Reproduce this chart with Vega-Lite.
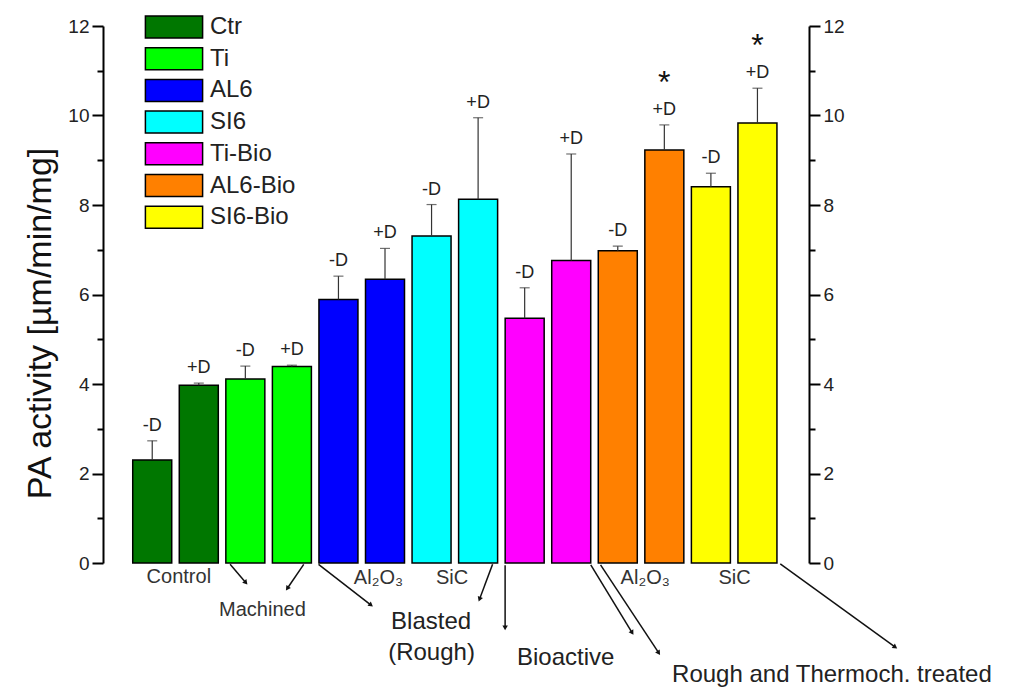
{
 "$schema": "https://vega.github.io/schema/vega-lite/v6.json",
 "width": 706,
 "height": 537,
 "autosize": {"type": "none"},
 "padding": {"left": 103, "top": 26, "right": 207, "bottom": 128},
 "background": "white",
 "config": {"view": {"stroke": null}, "font": "Liberation Sans"},
 "datasets": {
  "bars": [
   {"idx": 1, "group": "Ctr", "cond": "-D", "value": 2.30, "upper": 2.73, "star": ""},
   {"idx": 2, "group": "Ctr", "cond": "+D", "value": 3.97, "upper": 4.02, "star": ""},
   {"idx": 3, "group": "Ti", "cond": "-D", "value": 4.11, "upper": 4.40, "star": ""},
   {"idx": 4, "group": "Ti", "cond": "+D", "value": 4.39, "upper": 4.42, "star": ""},
   {"idx": 5, "group": "AL6", "cond": "-D", "value": 5.89, "upper": 6.41, "star": ""},
   {"idx": 6, "group": "AL6", "cond": "+D", "value": 6.34, "upper": 7.03, "star": ""},
   {"idx": 7, "group": "SI6", "cond": "-D", "value": 7.31, "upper": 8.01, "star": ""},
   {"idx": 8, "group": "SI6", "cond": "+D", "value": 8.13, "upper": 9.95, "star": ""},
   {"idx": 9, "group": "Ti-Bio", "cond": "-D", "value": 5.47, "upper": 6.15, "star": ""},
   {"idx": 10, "group": "Ti-Bio", "cond": "+D", "value": 6.76, "upper": 9.14, "star": ""},
   {"idx": 11, "group": "AL6-Bio", "cond": "-D", "value": 6.98, "upper": 7.08, "star": ""},
   {"idx": 12, "group": "AL6-Bio", "cond": "+D", "value": 9.23, "upper": 9.79, "star": "*"},
   {"idx": 13, "group": "SI6-Bio", "cond": "-D", "value": 8.41, "upper": 8.71, "star": ""},
   {"idx": 14, "group": "SI6-Bio", "cond": "+D", "value": 9.83, "upper": 10.61, "star": "*"}
  ],
  "arrows": [
   {"ax1": 2.673, "ay1": -0.03, "ax2": 3.011, "ay2": -0.44},
   {"ax1": 4.254, "ay1": -0.03, "ax2": 3.901, "ay2": -0.57},
   {"ax1": 4.572, "ay1": -0.03, "ax2": 5.70, "ay2": -0.94},
   {"ax1": 8.311, "ay1": -0.03, "ax2": 8.03, "ay2": -0.81},
   {"ax1": 8.58, "ay1": -0.05, "ax2": 8.58, "ay2": -1.45},
   {"ax1": 10.42, "ay1": -0.04, "ax2": 11.31, "ay2": -1.56},
   {"ax1": 10.63, "ay1": -0.04, "ax2": 11.88, "ay2": -2.01},
   {"ax1": 14.49, "ay1": -0.02, "ax2": 16.96, "ay2": -1.88}
  ],
  "smalltext": [
   {"tx": 1.572, "ty": -0.31, "label": "Control"},
   {"tx": 3.367, "ty": -1.05, "label": "Machined"},
   {"tx": 5.86, "ty": -0.33, "label": "Al₂O₃"},
   {"tx": 7.44, "ty": -0.33, "label": "SiC"},
   {"tx": 11.59, "ty": -0.33, "label": "Al₂O₃"},
   {"tx": 13.51, "ty": -0.33, "label": "SiC"}
  ],
  "bigtext": [
   {"tx": 6.99, "ty": -1.31, "label": "Blasted"},
   {"tx": 7.0, "ty": -2.02, "label": "(Rough)"},
   {"tx": 9.88, "ty": -2.13, "label": "Bioactive"},
   {"tx": 15.6, "ty": -2.50, "label": "Rough and Thermoch. treated"}
  ]
 },
 "layer": [
  {
   "data": {"name": "bars"},
   "mark": {"type": "bar", "width": 39, "stroke": "black", "strokeWidth": 1.5},
   "encoding": {
    "x": {"field": "idx", "type": "quantitative", "scale": {"domain": [0.05, 15], "nice": false, "zero": false},
          "axis": {"title": null, "labels": false, "ticks": false, "grid": false, "domainColor": "black", "domainWidth": 2}},
    "y": {"field": "value", "type": "quantitative", "scale": {"domain": [0, 12], "nice": false},
          "axis": {"orient": "left", "values": [0,1,2,3,4,5,6,7,8,9,10,11,12],
                   "labelExpr": "datum.value % 2 == 0 ? datum.label : ''",
                   "tickSize": {"condition": {"test": "datum.value % 2 == 0", "value": 11}, "value": 6},
                   "tickWidth": 2, "tickColor": "black", "domainColor": "black", "domainWidth": 2,
                   "labelFontSize": 19, "labelColor": "#222", "labelPadding": 3, "labelFlush": false, "labelOverlap": false,
                   "grid": false, "title": "PA activity [µm/min/mg]", "titleFontSize": 34, "titleFontWeight": "normal",
                   "titleColor": "#111", "titleAngle": -90, "titleAlign": "center", "titleBaseline": "middle",
                   "titleX": -63, "titleY": 297}},
    "fill": {"field": "group", "type": "nominal",
             "scale": {"domain": ["Ctr", "Ti", "AL6", "SI6", "Ti-Bio", "AL6-Bio", "SI6-Bio"],
                       "range": ["#007700", "#00ff00", "#0000ff", "#00ffff", "#ff00ff", "#ff8000", "#ffff00"]},
             "legend": {"orient": "none", "legendX": 59, "legendY": -11, "title": null, "padding": 0,
                        "symbolType": "M-2.6,-1H2.6V1H-2.6Z", "symbolSize": 484, "symbolStrokeColor": "black",
                        "symbolStrokeWidth": 1.5, "symbolOpacity": 1, "labelFontSize": 24, "labelColor": "#222",
                        "labelOffset": 24, "rowPadding": 3.7}}
   }
  },
  {
   "data": {"name": "bars"},
   "mark": {"type": "rule", "color": "#333", "strokeWidth": 1.2},
   "encoding": {
    "x": {"field": "idx", "type": "quantitative", "axis": null},
    "y": {"field": "value", "type": "quantitative",
          "axis": {"orient": "right", "values": [0,1,2,3,4,5,6,7,8,9,10,11,12],
                   "labelExpr": "datum.value % 2 == 0 ? datum.label : ''",
                   "tickSize": {"condition": {"test": "datum.value % 2 == 0", "value": 11}, "value": 6},
                   "tickWidth": 2, "tickColor": "black", "domainColor": "black", "domainWidth": 2,
                   "labelFontSize": 19, "labelColor": "#222", "labelPadding": 3, "labelFlush": false, "labelOverlap": false,
                   "grid": false, "title": null}},
    "y2": {"field": "upper"}
   }
  },
  {
   "data": {"name": "bars"},
   "mark": {"type": "tick", "orient": "horizontal", "size": 10, "thickness": 1.2, "color": "#333"},
   "encoding": {
    "x": {"field": "idx", "type": "quantitative", "axis": null},
    "y": {"field": "upper", "type": "quantitative", "axis": null}
   }
  },
  {
   "data": {"name": "bars"},
   "mark": {"type": "text", "fontSize": 18, "dy": -15, "baseline": "middle", "align": "center", "color": "#222"},
   "encoding": {
    "x": {"field": "idx", "type": "quantitative", "axis": null},
    "y": {"field": "upper", "type": "quantitative", "axis": null},
    "text": {"field": "cond"}
   }
  },
  {
   "data": {"name": "bars"},
   "mark": {"type": "text", "fontSize": 32, "dy": -32, "baseline": "alphabetic", "align": "center", "color": "#111"},
   "encoding": {
    "x": {"field": "idx", "type": "quantitative", "axis": null},
    "y": {"field": "upper", "type": "quantitative", "axis": null},
    "text": {"field": "star"}
   }
  },
  {
   "data": {"name": "arrows"},
   "mark": {"type": "rule", "color": "#111", "strokeWidth": 1.5},
   "encoding": {
    "x": {"field": "ax1", "type": "quantitative", "axis": null},
    "y": {"field": "ay1", "type": "quantitative", "axis": null},
    "x2": {"field": "ax2"},
    "y2": {"field": "ay2"}
   }
  },
  {
   "data": {"name": "arrows"},
   "transform": [{"calculate": "atan2((datum.ax2 - datum.ax1) * 47.23, (datum.ay2 - datum.ay1) * 44.75) * 180 / PI", "as": "ang"}],
   "mark": {"type": "point", "shape": "triangle-up", "filled": true, "size": 30, "color": "#111", "opacity": 1},
   "encoding": {
    "x": {"field": "ax2", "type": "quantitative", "axis": null},
    "y": {"field": "ay2", "type": "quantitative", "axis": null},
    "angle": {"field": "ang", "type": "quantitative", "scale": null}
   }
  },
  {
   "data": {"name": "smalltext"},
   "mark": {"type": "text", "fontSize": 20, "baseline": "middle", "align": "center", "color": "#333"},
   "encoding": {
    "x": {"field": "tx", "type": "quantitative", "axis": null},
    "y": {"field": "ty", "type": "quantitative", "axis": null},
    "text": {"field": "label"}
   }
  },
  {
   "data": {"name": "bigtext"},
   "mark": {"type": "text", "fontSize": 24, "baseline": "middle", "align": "center", "color": "#222"},
   "encoding": {
    "x": {"field": "tx", "type": "quantitative", "axis": null},
    "y": {"field": "ty", "type": "quantitative", "axis": null},
    "text": {"field": "label"}
   }
  }
 ],
 "resolve": {"axis": {"y": "independent"}}
}
